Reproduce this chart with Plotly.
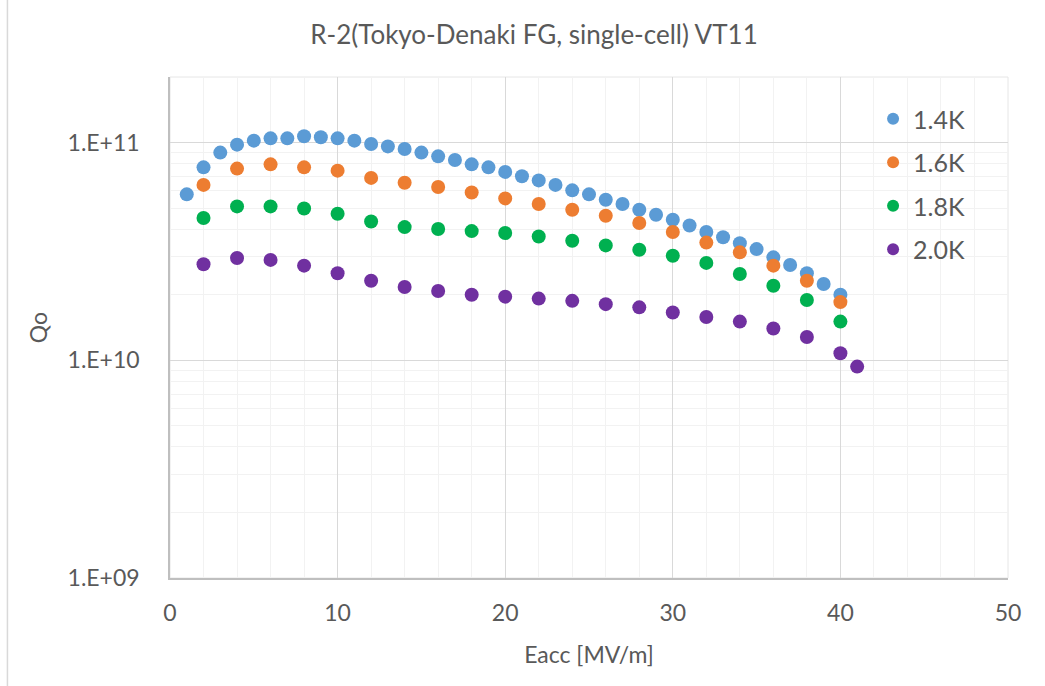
import plotly.graph_objects as go

# Data
eacc_14 = list(range(1, 41))
q0_14 = [5.78e10, 7.69e10, 8.99e10, 9.78e10, 1.02e11, 1.045e11, 1.045e11, 1.068e11, 1.057e11, 1.045e11,
         1.02e11, 9.85e10, 9.6e10, 9.34e10, 8.99e10, 8.64e10, 8.32e10, 7.94e10, 7.69e10, 7.33e10,
         7.0e10, 6.7e10, 6.39e10, 6.03e10, 5.78e10, 5.46e10, 5.22e10, 4.91e10, 4.66e10, 4.42e10,
         4.16e10, 3.88e10, 3.67e10, 3.45e10, 3.24e10, 2.97e10, 2.74e10, 2.51e10, 2.24e10, 2.0e10]

eacc_16 = list(range(2, 41, 2))
q0_16 = [6.39e10, 7.59e10, 7.94e10, 7.69e10, 7.43e10, 6.88e10, 6.54e10, 6.25e10, 5.9e10, 5.54e10,
         5.22e10, 4.91e10, 4.61e10, 4.27e10, 3.88e10, 3.47e10, 3.13e10, 2.72e10, 2.32e10, 1.85e10]

eacc_18 = list(range(2, 41, 2))
q0_18 = [4.50e10, 5.09e10, 5.09e10, 4.98e10, 4.71e10, 4.34e10, 4.09e10, 4.01e10, 3.92e10, 3.84e10,
         3.70e10, 3.54e10, 3.37e10, 3.22e10, 3.02e10, 2.80e10, 2.49e10, 2.20e10, 1.89e10, 1.505e10]

eacc_20 = list(range(2, 41, 2)) + [41]
q0_20 = [2.76e10, 2.95e10, 2.89e10, 2.72e10, 2.51e10, 2.32e10, 2.17e10, 2.08e10, 2.0e10, 1.96e10,
         1.92e10, 1.875e10, 1.81e10, 1.75e10, 1.656e10, 1.58e10, 1.505e10, 1.40e10, 1.28e10, 1.077e10,
         9.35e9]

series_names = ["1.4K", "1.6K", "1.8K", "2.0K"]
series_colors = ["#5B9BD5", "#ED7D31", "#00B050", "#7030A0"]

y_tickvals = [1e9, 1e10, 1e11]
y_ticktext = ["1.E+09", "1.E+10", "1.E+11"]
y_minor = [m * 10 ** e for e in (9, 10) for m in range(2, 10)] + [2e11]

title_text = "R-2(Tokyo-Denaki FG, single-cell) VT11"
x_title = "Eacc [MV/m]"
y_title = "Qo"

FONT = "Lato"
TXT = "#595959"

fig = go.Figure()
for xs, ys, name, color in zip([eacc_14, eacc_16, eacc_18, eacc_20],
                               [q0_14, q0_16, q0_18, q0_20],
                               series_names, series_colors):
    fig.add_trace(go.Scatter(x=xs, y=ys, mode="markers", name=name, legendgroup=name,
                             marker=dict(color=color, size=14, line=dict(width=0))))

fig.update_layout(
    width=1045, height=686,
    margin=dict(l=170, r=37, t=77, b=108),
    paper_bgcolor="white", plot_bgcolor="white",
    font=dict(family=FONT, color=TXT),
    title=dict(text=title_text, x=0.511, xref="container", xanchor="center",
               y=0.949, yref="container", yanchor="middle",
               font=dict(size=26, color=TXT, family=FONT)),
    showlegend=True,
    legend=dict(x=0.839, y=0.962, xanchor="left", yanchor="top",
                font=dict(size=25, color=TXT, family=FONT),
                bgcolor="rgba(0,0,0,0)", tracegroupgap=8, itemsizing="constant"),
    shapes=[
        dict(type="line", xref="paper", yref="paper", x0=-0.194, x1=1.2, y0=1.3436, y1=1.3436,
             line=dict(color="#D9D9D9", width=1.5)),
        dict(type="line", xref="paper", yref="paper", x0=-0.194, x1=-0.194, y0=1.3436, y1=-0.3,
             line=dict(color="#D9D9D9", width=1.5)),
    ],
)

fig.update_xaxes(
    range=[0, 50], tickvals=[0, 10, 20, 30, 40, 50],
    showgrid=True, gridcolor="#D9D9D9", gridwidth=1,
    minor=dict(dtick=2, showgrid=True, gridcolor="#F2F2F2", gridwidth=1),
    showline=True, linecolor="#BFBFBF", linewidth=1.5, mirror=False,
    ticks="", ticklabelstandoff=14,
    tickfont=dict(size=23, color=TXT, family=FONT),
    title=dict(text=x_title, font=dict(size=23, color=TXT, family=FONT), standoff=22),
    zeroline=False, automargin=False,
)
fig.update_yaxes(
    type="log", range=[9, 11.301], tickvals=y_tickvals, ticktext=y_ticktext,
    showgrid=True, gridcolor="#D9D9D9", gridwidth=1,
    minor=dict(tickvals=y_minor, showgrid=True, gridcolor="#F2F2F2", gridwidth=1),
    showline=True, linecolor="#BFBFBF", linewidth=1.5, mirror=False,
    ticks="", ticklabelstandoff=24,
    tickfont=dict(size=23, color=TXT, family=FONT),
    title=dict(text=y_title, font=dict(size=23, color=TXT, family=FONT), standoff=14),
    zeroline=False, automargin=False,
)

# light right/top plot-area border
fig.add_shape(type="rect", xref="paper", yref="paper", x0=0, x1=1, y0=0, y1=1,
              line=dict(color="#E6E6E6", width=1), layer="below")

fig.write_html("out.html")
